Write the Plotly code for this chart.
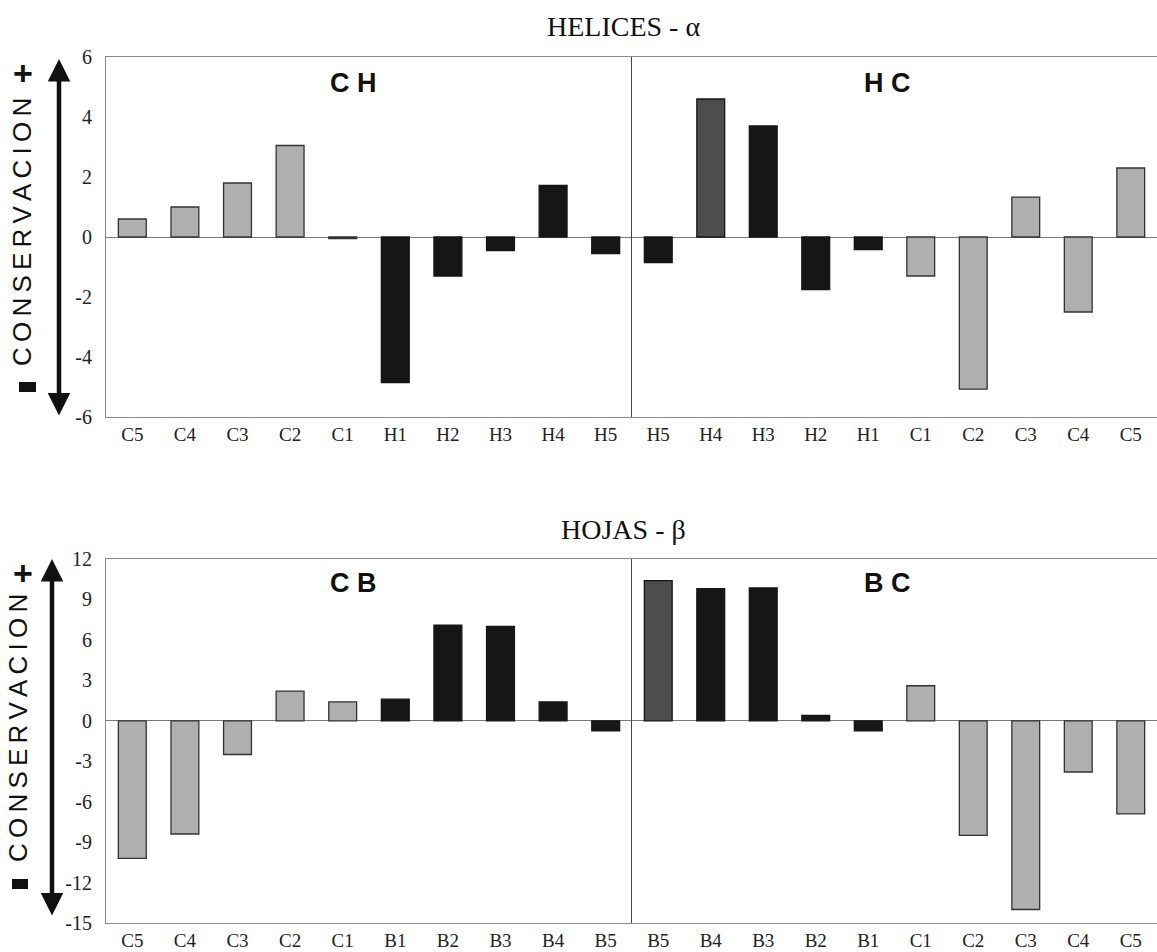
import plotly.graph_objects as go

# ---------------- data ----------------
ch_labels = ["C5", "C4", "C3", "C2", "C1", "H1", "H2", "H3", "H4", "H5"]
ch_values = [0.6, 1.0, 1.8, 3.05, -0.05, -4.85, -1.3, -0.45, 1.72, -0.55]

hc_labels = ["H5", "H4", "H3", "H2", "H1", "C1", "C2", "C3", "C4", "C5"]
hc_values = [-0.85, 4.6, 3.7, -1.75, -0.42, -1.3, -5.07, 1.33, -2.5, 2.3]

cb_labels = ["C5", "C4", "C3", "C2", "C1", "B1", "B2", "B3", "B4", "B5"]
cb_values = [-10.2, -8.4, -2.5, 2.2, 1.4, 1.6, 7.1, 7.0, 1.4, -0.75]

bc_labels = ["B5", "B4", "B3", "B2", "B1", "C1", "C2", "C3", "C4", "C5"]
bc_values = [10.4, 9.8, 9.85, 0.4, -0.75, 2.6, -8.5, -14.0, -3.8, -6.9]

top_title = "HELICES - α"
bottom_title = "HOJAS - β"
panel_names = ["C H", "H C", "C B", "B C"]
y_title = "CONSERVACION"

top_range = [-6, 6]
top_ticks = [-6, -4, -2, 0, 2, 4, 6]
top_ticktext = ["-6", "-4", "-2", "0", "2", "4", "6"]
bottom_range = [-15, 12]
bottom_ticks = [-15, -12, -9, -6, -3, 0, 3, 6, 9, 12]
bottom_ticktext = ["-15", "-12", "-9", "-6", "-3", "0", "3", "6", "9", "12"]

# ---------------- styling ----------------
W, H = 1157, 952
ML = 106
GRAY = "#afafaf"
BLACK = "#161616"
DARK = "#4d4d4d"
SERIF = "Liberation Serif, Times New Roman, serif"
SANS = "Liberation Sans, Arial, sans-serif"


def px_x(p):
    return (p - ML) / (W - ML)


def px_y(p):
    return 1 - p / H


def bar_colors(labels, highlight=None):
    cols = []
    for lab in labels:
        if lab == highlight:
            cols.append(DARK)
        elif lab.startswith("C"):
            cols.append(GRAY)
        else:
            cols.append(BLACK)
    return cols


def line_colors(labels):
    return ["#333333" if lab.startswith("C") else BLACK for lab in labels]


split = px_x(632)
top_dom = [px_y(417), px_y(57)]
bot_dom = [px_y(923), px_y(559)]

fig = go.Figure()

panels = [
    (ch_labels, ch_values, None, "x", "y"),
    (hc_labels, hc_values, "H4", "x2", "y2"),
    (cb_labels, cb_values, None, "x3", "y3"),
    (bc_labels, bc_values, "B5", "x4", "y4"),
]
for labels, values, hl, xa, ya in panels:
    fig.add_trace(go.Bar(
        x=labels, y=values, xaxis=xa, yaxis=ya,
        marker=dict(color=bar_colors(labels, hl),
                    line=dict(color=line_colors(labels), width=1.3)),
        showlegend=False,
    ))

tickfont = dict(family=SERIF, size=20, color="#222")
xtickfont = dict(family=SERIF, size=19, color="#222")
xcommon = dict(type="category", showline=True, mirror=True, linecolor="#8a8a8a",
               linewidth=1, ticks="", tickfont=xtickfont, showgrid=False,
               zeroline=False, fixedrange=True, automargin=False)
ycommon = dict(showgrid=False, zeroline=True, zerolinecolor="#7a7a7a", zerolinewidth=1,
               fixedrange=True, automargin=False)

fig.update_layout(
    template="none",
    width=W, height=H,
    margin=dict(l=ML, r=0, t=0, b=0, autoexpand=False),
    paper_bgcolor="white", plot_bgcolor="white",
    bargap=0.47,
    xaxis=dict(domain=[0, split], anchor="y", **xcommon),
    xaxis2=dict(domain=[split, 1], anchor="y2", **xcommon),
    xaxis3=dict(domain=[0, split], anchor="y3", **xcommon),
    xaxis4=dict(domain=[split, 1], anchor="y4", **xcommon),
    yaxis=dict(domain=top_dom, anchor="x", range=top_range, tickvals=top_ticks,
               ticktext=top_ticktext,
               showline=True, linecolor="#8a8a8a", ticks="outside", ticklen=9,
               tickcolor="rgba(0,0,0,0)", tickfont=tickfont, **ycommon),
    yaxis2=dict(domain=top_dom, anchor="x2", range=top_range, showticklabels=False,
                showline=True, linecolor="#444", ticks="", **ycommon),
    yaxis3=dict(domain=bot_dom, anchor="x3", range=bottom_range, tickvals=bottom_ticks,
                ticktext=bottom_ticktext,
                showline=True, linecolor="#8a8a8a", ticks="outside", ticklen=9,
                tickcolor="rgba(0,0,0,0)", tickfont=tickfont, **ycommon),
    yaxis4=dict(domain=bot_dom, anchor="x4", range=bottom_range, showticklabels=False,
                showline=True, linecolor="#444", ticks="", **ycommon),
)

ann = []


def add_text(text, cx, cy, font, angle=0):
    ann.append(dict(text=text, x=px_x(cx), y=px_y(cy), xref="paper", yref="paper",
                    xanchor="center", yanchor="middle", showarrow=False,
                    textangle=angle, font=font))


# titles
add_text(top_title, 623, 26, dict(family=SERIF, size=28, color="#111"))
add_text(bottom_title, 623, 529, dict(family=SERIF, size=28, color="#111"))
# panel labels
for name, cx, cy in zip(panel_names, [353, 887, 353, 887], [83, 83, 583, 583]):
    add_text("<b>%s</b>" % name, cx, cy, dict(family=SANS, size=27, color="#111"))

spaced = "\u2009".join(list(y_title))
shapes = []
for cx, cy, plus_x, plus_y, mx0, mx1, my0, my1, ax_x, tip_top, tip_bot in [
        (22, 232, 23, 73, 19, 36, 382, 392, 59, 59, 417),
        (18, 728, 23, 573, 12, 28, 879, 889, 52, 559, 917)]:
    add_text(spaced, cx, cy, dict(family=SANS, size=26, color="#111"), angle=-90)
    add_text("<b>+</b>", plus_x, plus_y, dict(family=SANS, size=34, color="#111"))
    shapes.append(dict(type="rect", xref="paper", yref="paper",
                       x0=px_x(mx0), x1=px_x(mx1), y0=px_y(my1), y1=px_y(my0),
                       fillcolor="#111", line=dict(width=0)))
    ann.append(dict(text="", x=px_x(ax_x), y=px_y(tip_top), xref="paper", yref="paper",
                    ax=0, ay=tip_bot - tip_top, axref="pixel", ayref="pixel",
                    showarrow=True, arrowhead=2, arrowside="end+start",
                    arrowsize=1.0, arrowwidth=4.5, arrowcolor="#111", standoff=0,
                    startstandoff=0))

fig.update_layout(annotations=ann, shapes=shapes)

fig.write_html("out.html", config={"displayModeBar": False},
               post_script="document.body.style.margin='0';"
                           "document.body.style.overflow='hidden';")
